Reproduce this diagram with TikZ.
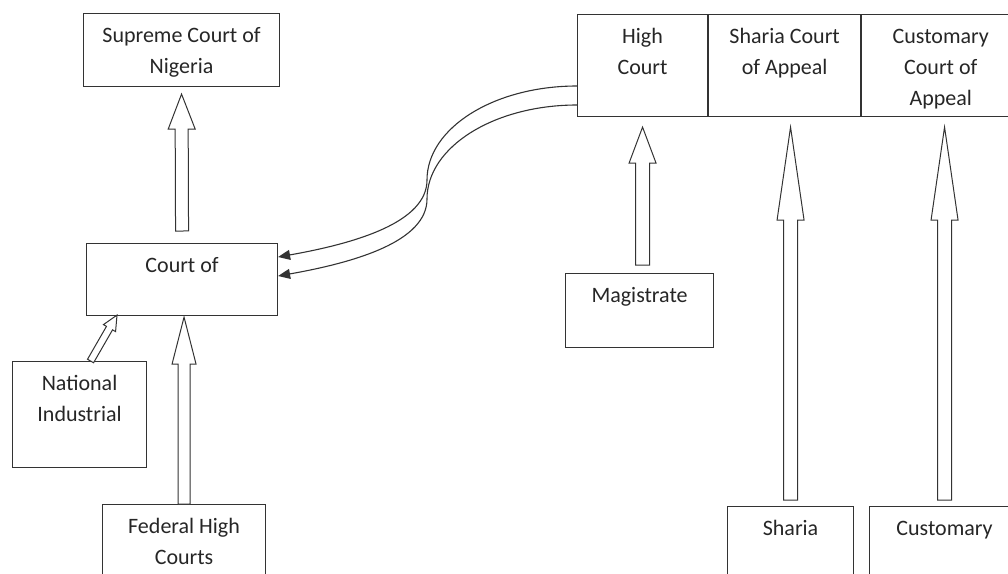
\documentclass[tikz,border=0pt]{standalone}
\usepackage{fontspec}
\setmainfont{Carlito}
\usetikzlibrary{calc,arrows.meta}

\newcommand{\cname}[1]{\begin{tabular}[t]{@{}c@{}}#1\end{tabular}}
% hollow block arrow: tail, tip, shaft half width, head half width, head length
\newcommand{\hollow}[5]{%
  \coordinate (hb) at ($(#2)!#5!(#1)$);
  \draw[hollowarrow] ($(#1)!#3!90:(#2)$) -- ($(hb)!#3!90:(#2)$) -- ($(hb)!#4!90:(#2)$) -- (#2)
    -- ($(hb)!#4!-90:(#2)$) -- ($(hb)!#3!-90:(#2)$) -- ($(#1)!#3!-90:(#2)$) -- cycle;}

\begin{document}
\begin{tikzpicture}[x=1pt, y=-1pt,
    box/.style={draw=black!80, line width=1.1pt, inner sep=0pt, anchor=north west,
      text height=29pt, font=\fontsize{22}{31}\selectfont, text=black!85},
    hollowarrow/.style={draw=black!80, line width=1pt, fill=white, line join=miter},
    appeal/.style={draw=black!80, line width=1.1pt, -{Triangle[length=12pt,width=10pt]}}]
    \useasboundingbox (0,0) rectangle (1008,573);
    % federal side
    \node[box, minimum width=196pt, text depth=44pt] (c_sup) at (83,13) {\cname{Supreme Court of\\Nigeria}};
    \node[box, minimum width=191pt, text depth=43pt] (c_app) at (86,243) {\cname{Court of}};
    \node[box, minimum width=134pt, text depth=77pt] (c_nic) at (12,361) {\cname{National\\Industrial}};
    \node[box, minimum width=163pt, text depth=61pt] (c_fhc) at (102,504) {\cname{Federal High\\Courts}};
    % state side
    \node[box, minimum width=130pt, text depth=73pt] (c_hc) at (577,14) {\cname{High\\Court}};
    \node[box, minimum width=152pt, text depth=73pt] (c_sca) at (c_hc.north east) {\cname{Sharia Court\\of Appeal}};
    \node[box, minimum width=158pt, text depth=73pt] (c_cca) at (c_sca.north east) {\cname{Customary\\Court of\\Appeal}};
    \node[box, minimum width=148pt, text depth=45pt] (c_mag) at (565,273) {\cname{Magistrate}};
    \node[box, minimum width=126pt, text depth=61pt] (c_sha) at (727,506) {\cname{Sharia}};
    \node[box, minimum width=150pt, text depth=61pt] (c_cus) at (869,506) {\cname{Customary}};

    \coordinate (t_sup) at ($(c_app.north)+(0,-12)$);
    \coordinate (p_sup) at ($(c_sup.south)+(0,7)$);
    \coordinate (t_fhc) at (c_fhc.north);
    \coordinate (p_fhc) at ($(c_app.south -| c_fhc.north)+(0,1)$);
    \coordinate (t_nic) at ($(c_nic.north)+(11,0)$);
    \coordinate (p_nic) at ($(c_app.south west)+(31,-1)$);
    \coordinate (t_mag) at ($(c_hc.south |- c_mag.north)+(0,-8)$);
    \coordinate (p_mag) at ($(c_hc.south)+(0,10)$);
    \coordinate (t_sha) at ($(c_sha.north)+(0,-6)$);
    \coordinate (p_sha) at ($(c_sha.north |- c_sca.south)+(0,10)$);
    \coordinate (t_cus) at ($(c_cus.north)+(0,-6)$);
    \coordinate (p_cus) at ($(c_cus.north |- c_cca.south)+(0,10)$);

    \hollow{t_sup}{p_sup}{6.5pt}{13.5pt}{35pt}
    \hollow{t_fhc}{p_fhc}{6pt}{12pt}{47pt}
    \hollow{t_nic}{p_nic}{3.5pt}{7pt}{15pt}
    \hollow{t_mag}{p_mag}{7pt}{13.5pt}{36pt}
    \hollow{t_sha}{p_sha}{7pt}{13.5pt}{93pt}
    \hollow{t_cus}{p_cus}{7pt}{13.5pt}{93pt}

    % appeals from the state high court
    \coordinate (m_1) at (427,180);
    \coordinate (m_2) at (427,199);
    \draw[appeal] ($(c_hc.north west)+(0,72)$) .. controls +(-83,0) and +(0,-52) .. (m_1)
        .. controls +(0,42) and +(79,-14) .. ($(c_app.north east)+(0,14)$);
    \draw[appeal] ($(c_hc.north west)+(0,91)$) .. controls +(-83,0) and +(0,-52) .. (m_2)
        .. controls +(0,42) and +(79,-14) .. ($(c_app.north east)+(0,33)$);
\end{tikzpicture}
\end{document}
